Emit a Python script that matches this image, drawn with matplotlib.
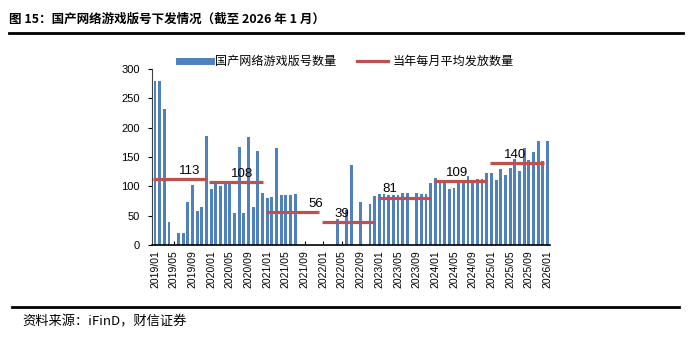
import numpy as np
import matplotlib
matplotlib.use('Agg')
import matplotlib.pyplot as plt
from matplotlib.lines import Line2D

plt.rcParams['font.family'] = ['Liberation Sans', 'Noto Sans CJK SC', 'DejaVu Sans']

# 每月版号数量 2019/01 - 2026/01
y2019 = [279, 279, 232, 40, 0, 20, 20, 74, 102, 58, 65, 186]
y2020 = [95, 105, 101, 107, 107, 54, 167, 55, 185, 65, 161, 88]
y2021 = [80, 82, 165, 86, 86, 86, 87, 0, 0, 0, 0, 0]
y2022 = [0, 0, 0, 45, 0, 60, 136, 0, 73, 0, 70, 84]
y2023 = [87, 87, 86, 86, 86, 89, 88, 0, 89, 87, 87, 105]
y2024 = [115, 111, 107, 95, 97, 105, 105, 117, 107, 113, 113, 123]
y2025 = [123, 111, 130, 119, 132, 147, 127, 166, 145, 159, 178, 143]
y2026 = [177]
issued = y2019 + y2020 + y2021 + y2022 + y2023 + y2024 + y2025 + y2026

years = [2019, 2020, 2021, 2022, 2023, 2024, 2025]
year_avg = [113, 108, 56, 39, 81, 109, 140]

months = [f'{y}/{m:02d}' for y in range(2019, 2027) for m in range(1, 13)][:len(issued)]

# 平均值标签在年内的位置 (月)
label_pos = [7.5, 6.7, 10.4, 3.9, 2.2, 4.7, 5.0]

blue = '#4F81BD'
red = '#C0504D'

fig = plt.figure(figsize=(6.89, 3.41), dpi=100)
ax = fig.add_axes([0.221, 0.2815, 0.577, 0.516])

x = np.arange(len(issued))
ax.bar(x, issued, width=0.6, color=blue, zorder=2)

for i, (yr, avg) in enumerate(zip(years, year_avg)):
    x0 = 12 * i - 0.35
    x1 = 12 * i + 11.15
    ax.hlines(avg, x0, x1, color=red, lw=2.3, zorder=3)
    ax.annotate(str(avg), (12 * i + label_pos[i], avg), xytext=(0, 1.5),
                textcoords='offset points', ha='center', va='bottom',
                fontsize=9.5, color='black', zorder=4)

ax.set_xlim(-0.6, len(issued) - 0.5)
ax.set_ylim(0, 300)
ax.set_yticks(range(0, 301, 50))
ax.set_xticks(x[::4])
ax.set_xticklabels(months[::4], rotation=90, fontsize=7.5)
ax.tick_params(axis='y', labelsize=8, length=3, direction='out', pad=6)
ax.tick_params(axis='x', length=3, direction='in', pad=4)
for s in ['top', 'right']:
    ax.spines[s].set_visible(False)
ax.spines['left'].set_color('#404040')
ax.spines['bottom'].set_color('black')
ax.spines['bottom'].set_linewidth(1.2)

handles = [Line2D([], [], color=blue, lw=5), Line2D([], [], color=red, lw=2.3)]
fig.legend(handles, ['国产网络游戏版号数量', '当年每月平均发放数量'], loc='center',
           bbox_to_anchor=(0.503, 0.818), ncol=2, frameon=False, fontsize=8.7,
           handlelength=2.6, handletextpad=0.35, columnspacing=1.7)

# 标题与来源
fig.text(0.013, 0.945, '图 15：国产网络游戏版号下发情况（截至 2026 年 1 月）',
         fontsize=9, fontweight='bold', ha='left', va='center',
         family=['Noto Sans CJK SC', 'DejaVu Sans'])
fig.add_artist(Line2D([0.013, 0.992], [0.903, 0.903], color='black', lw=2))
fig.add_artist(Line2D([0.017, 0.985], [0.1, 0.1], color='black', lw=2))
fig.text(0.032, 0.055, '资料来源：iFinD，财信证券', fontsize=9.5, style='italic',
         ha='left', va='center', family=['Noto Sans CJK SC', 'DejaVu Sans'])

fig.savefig('out.png', dpi=100)
